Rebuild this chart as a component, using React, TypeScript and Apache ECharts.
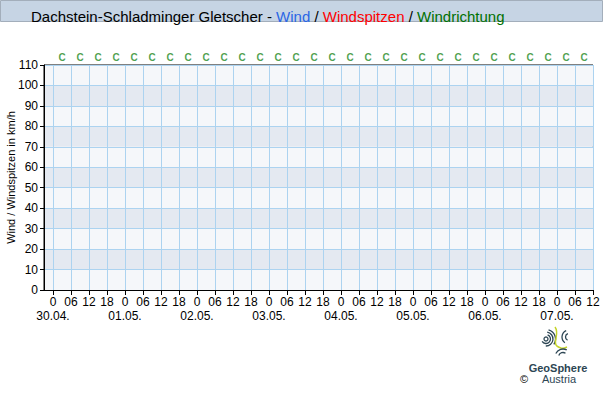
import React, { useEffect, useRef } from "react";
import * as echarts from "echarts";

// x categories: hours since 30.04. 00:00, every 3 h
const hourCats: number[] = [
  -3, 0, 3, 6, 9, 12, 15, 18, 21, 24, 27, 30, 33, 36, 39, 42, 45, 48, 51, 54, 57, 60,
  63, 66, 69, 72, 75, 78, 81, 84, 87, 90, 93, 96, 99, 102, 105, 108, 111, 114, 117,
  120, 123, 126, 129, 132, 135, 138, 141, 144, 147, 150, 153, 156, 159, 162, 165, 168,
  171, 174, 177, 180,
];
const dayLabels: string[] = ["30.04.", "01.05.", "02.05.", "03.05.", "04.05.", "05.05.", "06.05.", "07.05."];
const yTicks: number[] = [0, 10, 20, 30, 40, 50, 60, 70, 80, 90, 100, 110];

// wind / gusts: no values shown in the chart
const windValues: [number, number][] = [];
const gustValues: [number, number][] = [];

// wind direction labels (C = calm)
const dirHours: number[] = [
  3, 9, 15, 21, 27, 33, 39, 45, 51, 57, 63, 69, 75, 81, 87, 93, 99, 105, 111, 117, 123,
  129, 135, 141, 147, 153, 159, 165, 171, 177,
];
const dirLabels: string[] = [
  "C", "C", "C", "C", "C", "C", "C", "C", "C", "C", "C", "C", "C", "C", "C",
  "C", "C", "C", "C", "C", "C", "C", "C", "C", "C", "C", "C", "C", "C", "C",
];

const FONT = "Liberation Sans, Arial, sans-serif";

function isMajor(v: string | number) {
  const h = Number(v);
  return h >= 0 && h % 6 === 0;
}
function isDay(v: string | number) {
  const h = Number(v);
  return h >= 0 && h % 24 === 0;
}

export default function App() {
  const ref = useRef<HTMLDivElement>(null);
  useEffect(() => {
    if (!ref.current) return;
    const chart = echarts.init(ref.current, undefined, { renderer: "svg" });
    const cats = hourCats.map(String);
    const rt = { fontSize: 15, fontFamily: FONT, fontWeight: "normal" };
    chart.setOption({
      animation: false,
      backgroundColor: "#ffffff",
      title: {
        left: 26,
        top: 4,
        text:
          "{k|Dachstein-Schladminger Gletscher - }{b|Wind}{k| / }{r|Windspitzen}{k| / }{g|Windrichtung}",
        textStyle: {
          fontFamily: FONT,
          fontSize: 15,
          fontWeight: "normal",
          rich: {
            k: { ...rt, color: "#000000" },
            b: { ...rt, color: "#2a66e6" },
            r: { ...rt, color: "#ff0000" },
            g: { ...rt, color: "#007000" },
          },
        },
      },
      grid: {
        left: 44,
        right: 10,
        top: 65,
        bottom: 110,
        show: true,
        borderColor: "#000000",
        borderWidth: 1,
        backgroundColor: "transparent",
        containLabel: false,
        outerBoundsMode: "none",
      },
      xAxis: [
        {
          type: "category",
          data: cats,
          boundaryGap: false,
          axisLine: { show: true, lineStyle: { color: "#000000", width: 1 } },
          axisTick: {
            show: true,
            length: 5,
            interval: (_i: number, v: string) => isMajor(v),
            lineStyle: { color: "#000000" },
          },
          splitLine: {
            show: true,
            interval: (_i: number, v: string) => isMajor(v),
            lineStyle: { color: "#acd3f0", width: 1 },
          },
          axisLabel: {
            interval: (_i: number, v: string) => isMajor(v),
            margin: 6,
            hideOverlap: false,
            fontFamily: FONT,
            fontSize: 12,
            color: "#000000",
            formatter: (v: string) => {
              const hh = Number(v) % 24;
              if (hh === 0) return "0";
              return (hh < 10 ? "0" : "") + hh;
            },
          },
        },
        {
          type: "category",
          data: cats,
          boundaryGap: false,
          position: "bottom",
          axisLine: { show: false },
          axisTick: { show: false },
          splitLine: { show: false },
          axisLabel: {
            interval: (_i: number, v: string) => isDay(v),
            margin: 20,
            hideOverlap: false,
            fontFamily: FONT,
            fontSize: 12,
            color: "#000000",
            formatter: (v: string) => dayLabels[Number(v) / 24],
          },
        },
      ],
      yAxis: {
        type: "value",
        min: yTicks[0],
        max: yTicks[yTicks.length - 1],
        interval: 10,
        name: "Wind / Windspitzen in km/h",
        nameLocation: "middle",
        nameGap: 28,
        nameMoveOverlap: false,
        nameTextStyle: { fontFamily: FONT, fontSize: 11, color: "#000000" },
        axisLine: { show: true, lineStyle: { color: "#000000" } },
        axisTick: { show: true, length: 4, lineStyle: { color: "#000000" } },
        axisLabel: { margin: 6, fontFamily: FONT, fontSize: 12, color: "#000000" },
        splitLine: { show: true, lineStyle: { color: "#acd3f0", width: 1 } },
        splitArea: { show: true, areaStyle: { color: ["#f5f7fa", "#e4e9f1"] } },
      },
      series: [
        {
          name: "Wind",
          type: "line",
          data: windValues,
          showSymbol: false,
          lineStyle: { color: "#2a66e6", width: 2 },
        },
        {
          name: "Windspitzen",
          type: "line",
          data: gustValues,
          showSymbol: false,
          lineStyle: { color: "#ff0000", width: 2 },
        },
        {
          name: "Windrichtung",
          type: "scatter",
          clip: false,
          symbolSize: 1,
          itemStyle: { color: "rgba(0,0,0,0)" },
          data: dirHours.map((h, i) => ({ value: [String(h), 110], label: { formatter: dirLabels[i] } })),
          label: {
            show: true,
            position: "top",
            distance: 2,
            fontFamily: FONT,
            fontSize: 10,
            fontWeight: "bold",
            color: "#1f8a1f",
          },
          silent: true,
        },
      ],
      graphic: [
        {
          type: "rect",
          z: -1,
          shape: { x: 0.5, y: 0.5, width: 602, height: 21 },
          style: { fill: "#c6d4e4", stroke: "#a3aebb", lineWidth: 1 },
        },
        // logo (approximation)
        {
          type: "group",
          children: [
            { type: "arc", shape: { cx: 546, cy: 339, r: 2, startAngle: 0, endAngle: Math.PI * 2 }, style: { stroke: "#2d4654", lineWidth: 1.3, fill: "none" } },
            { type: "arc", shape: { cx: 546, cy: 339, r: 4.5, startAngle: -1.2, endAngle: 2.6 }, style: { stroke: "#2d4654", lineWidth: 1.3, fill: "none" } },
            { type: "arc", shape: { cx: 546, cy: 339, r: 7, startAngle: -1.4, endAngle: 1.6 }, style: { stroke: "#2d4654", lineWidth: 1.3, fill: "none" } },
            { type: "arc", shape: { cx: 546, cy: 339, r: 9.5, startAngle: -1.3, endAngle: 0.6 }, style: { stroke: "#2d4654", lineWidth: 1.3, fill: "none" } },
            { type: "bezierCurve", shape: { x1: 555, y1: 327, x2: 561, y2: 348, cpx1: 561, cpy1: 335, cpx2: 549, cpy2: 345 }, style: { stroke: "#c5d42a", lineWidth: 1.5, fill: "none" } },
            { type: "bezierCurve", shape: { x1: 561, y1: 348, x2: 567, y2: 347, cpx1: 563, cpy1: 349, cpx2: 565, cpy2: 348 }, style: { stroke: "#c5d42a", lineWidth: 1.5, fill: "none" } },
            { type: "arc", shape: { cx: 569, cy: 337, r: 3.5, startAngle: 2.0, endAngle: 4.4 }, style: { stroke: "#2d4654", lineWidth: 1.3, fill: "none" } },
            { type: "arc", shape: { cx: 569, cy: 337, r: 7, startAngle: 2.2, endAngle: 4.3 }, style: { stroke: "#2d4654", lineWidth: 1.3, fill: "none" } },
            { type: "arc", shape: { cx: 563, cy: 357, r: 4.5, startAngle: 3.5, endAngle: 5.3 }, style: { stroke: "#2d4654", lineWidth: 1.3, fill: "none" } },
            { type: "arc", shape: { cx: 563, cy: 357, r: 8, startAngle: 3.6, endAngle: 5.2 }, style: { stroke: "#2d4654", lineWidth: 1.3, fill: "none" } },
          ],
        },
        {
          type: "text",
          x: 558,
          y: 368,
          style: { text: "GeoSphere", fontFamily: FONT, fontSize: 11, fontWeight: "bold", fill: "#2d4654", align: "center", verticalAlign: "middle" },
        },
        {
          type: "text",
          x: 559,
          y: 379,
          style: { text: "Austria", fontFamily: FONT, fontSize: 11, fill: "#2d4654", align: "center", verticalAlign: "middle" },
        },
        {
          type: "text",
          x: 524,
          y: 379,
          style: { text: "©", fontFamily: FONT, fontSize: 11, fill: "#000000", align: "center", verticalAlign: "middle" },
        },
      ],
    });
    return () => chart.dispose();
  }, []);
  return <div ref={ref} style={{ width: 603, height: 400, position: "absolute", left: 0, top: 0 }} />;
}
